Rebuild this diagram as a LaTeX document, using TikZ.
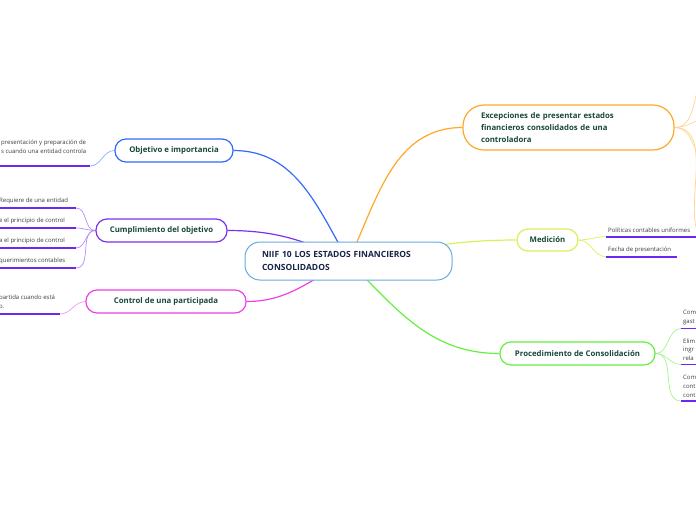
\documentclass[tikz,border=0pt]{standalone}
\usepackage{fontspec}
\setmainfont{Open Sans}
\usepackage{xcolor}
\usepackage{tikz}
\usetikzlibrary{positioning, backgrounds, calc}
\definecolor{rootblue}{RGB}{105, 170, 222}
\definecolor{rootink}{RGB}{22, 36, 72}
\definecolor{topicink}{RGB}{24, 72, 58}
\definecolor{leafink}{RGB}{60, 60, 60}
\definecolor{objblue}{RGB}{50, 105, 250}
\definecolor{cumpurple}{RGB}{120, 50, 240}
\definecolor{ctrlpink}{RGB}{238, 64, 228}
\definecolor{excorange}{RGB}{255, 168, 40}
\definecolor{medlime}{RGB}{218, 240, 90}
\definecolor{procgreen}{RGB}{100, 240, 60}
\definecolor{ulpurple}{RGB}{108, 40, 240}

\begin{document}
\begin{tikzpicture}[
    x=1pt, y=1pt,
    root/.style={draw=rootblue, line width=1pt, fill=white, rounded corners=15pt,
                 minimum width=207pt, minimum height=38pt, text width=173pt, align=left,
                 inner xsep=17pt, font=\fontsize{8.5}{13}\selectfont\bfseries, text=rootink},
    topic/.style={draw=#1, line width=1.2pt, fill=white, rounded corners=11pt,
                  minimum height=23pt, font=\fontsize{7.8}{12}\selectfont\bfseries, text=topicink},
    leaf/.style={anchor=south west, align=left, inner xsep=2pt, inner ysep=3.5pt,
                 font=\fontsize{6}{8.8}\selectfont, text=leafink},
    branch/.style={draw=#1, line width=1.2pt},
    twig/.style={draw=#1, line width=0.7pt},
    uline/.style={draw=ulpurple, line width=1.8pt}
]
    \useasboundingbox (0,0) rectangle (696,-520);
    \clip (0,0) rectangle (696,-520);

    % centre and main topics
    \node[root] (root) at (348.5,-261) {NIIF 10 LOS ESTADOS FINANCIEROS\\CONSOLIDADOS};

    \node[topic=objblue, minimum width=118pt] (obj) at (174,-150.5) {Objetivo e importancia};
    \node[topic=cumpurple, minimum width=131pt] (cum) at (161.5,-230.5) {Cumplimiento del objetivo};
    \node[topic=ctrlpink, minimum width=160pt] (ctrl) at (166,-301.5) {Control de una participada};
    \node[topic=excorange, minimum width=211pt, minimum height=45pt, rounded corners=21pt,
          text width=175pt, align=left, inner xsep=18pt] (exc) at (568.5,-127.5)
          {Excepciones de presentar estados\\financieros consolidados de una\\controladora};
    \node[topic=medlime, minimum width=61pt, minimum height=22pt] (med) at (547.5,-240) {Medición};
    \node[topic=procgreen, minimum width=155pt] (proc) at (577.5,-353.5) {Procedimiento de Consolidación};

    % leaves on the left (cut by the page edge)
    \node[leaf, inner ysep=12pt] (ol1) at (-1,-166)
          {presentación y preparación de\\s cuando una entidad controla};
    \node[leaf] (cl1) at (-3,-208) {Requiere de una entidad};
    \node[leaf] (cl2) at (-3,-228) {e el principio de control};
    \node[leaf] (cl3) at (-3,-248) {a el principio de control};
    \node[leaf] (cl4) at (-3,-268) {querimientos contables};
    \node[leaf, inner ysep=5pt] (pl1) at (-3,-314) {partida cuando está\\o.};

    \coordinate (ol1e) at (90,-166);
    \coordinate (cl1e) at (76,-208);
    \coordinate (cl2e) at (76,-228);
    \coordinate (cl3e) at (76,-248);
    \coordinate (cl4e) at (76,-268);
    \coordinate (pl1e) at (60,-314);

    % leaves on the right
    \node[leaf] (ml1) at (606,-236.7) {Políticas contables uniformes};
    \node[leaf] (ml2) at (606,-256.7) {Fecha de presentación};
    \node[leaf] (pr1) at (681,-328.5) {Com\\gast};
    \node[leaf] (pr2) at (681,-364.5) {Elim\\ingr\\rela};
    \node[leaf] (pr3) at (681,-401) {Com\\cont\\cont};

    \coordinate (ml1e) at (696,-236.7);
    \coordinate (ml2e) at (677,-256.7);
    \coordinate (pr1e) at (696,-328.5);
    \coordinate (pr2e) at (696,-364.5);
    \coordinate (pr3e) at (696,-401);

    \coordinate (ex1) at (716,-70);
    \coordinate (ex2) at (716,-115);
    \coordinate (ex3) at (716,-170);
    \coordinate (ex4) at (716,-245);

    \foreach \l in {ol1,cl1,cl2,cl3,cl4,pl1}
        \draw[uline] (0,0 |- \l.south west) -- (\l e);
    \foreach \l in {ml1,ml2,pr1,pr2,pr3}
        \draw[uline] (\l.south west) -- (\l e);

    \begin{scope}[on background layer]
        \clip (0,0) rectangle (696,-520);
        \draw[branch=objblue] (root.center) to[out=120, in=0] (obj.east);
        \draw[branch=cumpurple] (root.center) to[out=155, in=0] (cum.east);
        \draw[branch=ctrlpink] (root.center) to[out=205, in=0] (ctrl.east);
        \draw[branch=excorange] (root.center) to[out=65, in=180] (exc.west);
        \draw[branch=medlime] (root.center) to[out=10, in=180] (med.west);
        \draw[branch=procgreen] (root.center) to[out=-45, in=180] (proc.west);

        \draw[twig=objblue!55] (obj.west) to[out=180, in=0] (ol1e);
        \foreach \l in {cl1,cl2,cl3,cl4}
            \draw[twig=cumpurple!55] (cum.west) to[out=180, in=0] (\l e);
        \draw[twig=ctrlpink!55] (ctrl.west) to[out=180, in=0] (pl1e);
        \foreach \c in {ex1,ex2,ex3,ex4}
            \draw[twig=excorange!50] (exc.east) to[out=0, in=180] (\c);
        \foreach \l in {ml1,ml2}
            \draw[twig=medlime] (med.east) to[out=0, in=180] (\l.south west);
        \foreach \l in {pr1,pr2,pr3}
            \draw[twig=procgreen!60] (proc.east) to[out=0, in=180] (\l.south west);
    \end{scope}
\end{tikzpicture}
\end{document}
